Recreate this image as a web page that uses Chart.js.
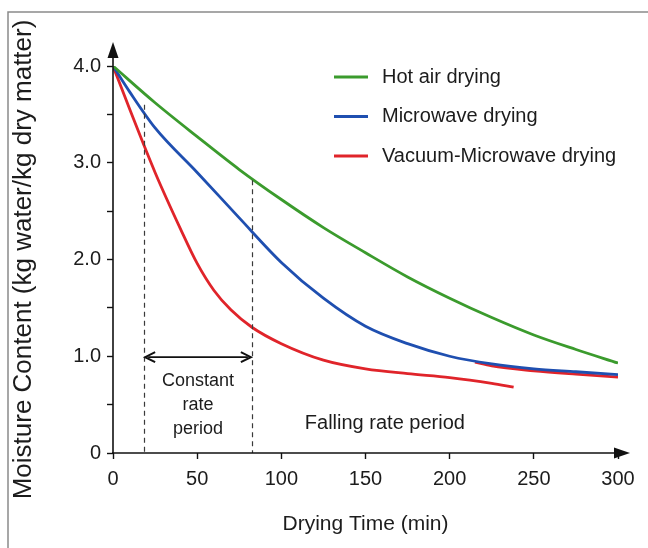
<!DOCTYPE html>
<html>
<head>
<meta charset="utf-8">
<script src="https://cdn.jsdelivr.net/npm/chart.js@4.4.1/dist/chart.umd.min.js"></script>
<style>
  html, body { margin: 0; padding: 0; background: #ffffff; }
  #wrap { width: 648px; height: 548px; }
</style>
</head>
<body>
<div id="wrap"><canvas id="c" width="648" height="548"></canvas></div>
<script>
// ---- data ----
const seriesLabels = ['Hot air drying', 'Microwave drying', 'Vacuum-Microwave drying'];

const hotAirTime      = [0, 25, 50, 75, 100, 125, 150, 175, 200, 225, 250, 275, 300];
const hotAirMoisture  = [4.0, 3.62, 3.27, 2.93, 2.62, 2.33, 2.07, 1.82, 1.60, 1.40, 1.22, 1.07, 0.93];

const microTime       = [0, 10, 25, 50, 75, 100, 125, 150, 175, 200, 225, 250, 275, 300];
const microMoisture   = [4.0, 3.73, 3.36, 2.90, 2.43, 1.97, 1.60, 1.31, 1.13, 1.00, 0.92, 0.87, 0.84, 0.81];

const vacuumTime      = [0, 10, 25, 40, 50, 60, 70, 82.5, 100, 125, 150, 175, 200, 225, 238];
const vacuumMoisture  = [4.0, 3.55, 2.90, 2.32, 1.96, 1.68, 1.48, 1.30, 1.13, 0.96, 0.87, 0.82, 0.78, 0.72, 0.68];

// red trace visible just under the microwave curve at the end
const vacuumTailTime     = [215, 225, 250, 275, 300];
const vacuumTailMoisture = [0.94, 0.90, 0.85, 0.815, 0.785];

const xTickValues = [0, 50, 100, 150, 200, 250, 300];
const yTickValues = [0, 0.5, 1, 1.5, 2, 2.5, 3, 3.5, 4];
const yTickLabels = ['0', '', '1.0', '', '2.0', '', '3.0', '', '4.0'];

const periodBounds   = [18.5, 82.5];   // minutes, dashed lines
const periodTops     = [3.60, 2.82];   // moisture where dashed lines start
const arrowLevel     = 0.99;           // moisture level of double arrow
const constantText   = ['Constant', 'rate', 'period'];
const constantLevels = [0.745, 0.50, 0.25];
const fallingText    = 'Falling rate period';
const fallingPos     = [161.5, 0.31];

// ---- helpers ----
const pts = (xs, ys) => xs.map((t, i) => ({ x: t, y: ys[i] }));
const GREEN = '#3b9b2d', BLUE = '#1f4fb0', RED = '#e0242a';
const INK = '#1c1c1c';
const FONT = '"Liberation Sans", Arial, sans-serif';

const decor = {
  id: 'decor',
  beforeDraw(chart) {
    const ctx = chart.ctx;
    ctx.save();
    ctx.fillStyle = '#ffffff';
    ctx.fillRect(0, 0, chart.width, chart.height);
    ctx.restore();
  },
  afterDatasetsDraw(chart) {
    const { ctx, scales: { x, y } } = chart;
    const x0 = x.getPixelForValue(0), y0 = y.getPixelForValue(0);
    const xEnd = x.getPixelForValue(300), yTop = y.getPixelForValue(4);
    ctx.save();

    // dashed period boundaries
    ctx.setLineDash([5, 4]);
    ctx.strokeStyle = '#3a3a3a';
    ctx.lineWidth = 1.2;
    periodBounds.forEach((t, i) => {
      const px = Math.round(x.getPixelForValue(t)) + 0.5;
      ctx.beginPath();
      ctx.moveTo(px, y.getPixelForValue(periodTops[i]));
      ctx.lineTo(px, y0);
      ctx.stroke();
    });
    ctx.setLineDash([]);

    // double arrow
    const ay = y.getPixelForValue(arrowLevel);
    const ax1 = x.getPixelForValue(periodBounds[0]), ax2 = x.getPixelForValue(periodBounds[1]);
    ctx.strokeStyle = '#111';
    ctx.fillStyle = '#111';
    ctx.lineWidth = 1.8;
    ctx.beginPath(); ctx.moveTo(ax1 + 4, ay); ctx.lineTo(ax2 - 4, ay); ctx.stroke();
    ctx.lineWidth = 2;
    ctx.beginPath(); ctx.moveTo(ax1 + 11, ay - 5); ctx.lineTo(ax1 + 1, ay); ctx.lineTo(ax1 + 11, ay + 5); ctx.stroke();
    ctx.beginPath(); ctx.moveTo(ax2 - 11, ay - 5); ctx.lineTo(ax2 - 1, ay); ctx.lineTo(ax2 - 11, ay + 5); ctx.stroke();

    // annotation text
    ctx.fillStyle = INK;
    ctx.textAlign = 'center';
    ctx.textBaseline = 'middle';
    ctx.font = '18px ' + FONT;
    const cx = x.getPixelForValue((periodBounds[0] + periodBounds[1]) / 2);
    constantText.forEach((s, i) => ctx.fillText(s, cx, y.getPixelForValue(constantLevels[i])));
    ctx.font = '20px ' + FONT;
    ctx.fillText(fallingText, x.getPixelForValue(fallingPos[0]), y.getPixelForValue(fallingPos[1]));

    // axes with arrows
    ctx.strokeStyle = '#111';
    ctx.fillStyle = '#111';
    ctx.lineWidth = 1.6;
    ctx.beginPath(); ctx.moveTo(x0, y0 + 1); ctx.lineTo(x0, yTop - 16); ctx.stroke();
    ctx.beginPath(); ctx.moveTo(x0 - 1, y0); ctx.lineTo(xEnd + 5, y0); ctx.stroke();
    ctx.beginPath(); ctx.moveTo(x0, yTop - 24); ctx.lineTo(x0 - 5.5, yTop - 8); ctx.lineTo(x0 + 5.5, yTop - 8); ctx.closePath(); ctx.fill();
    ctx.beginPath(); ctx.moveTo(xEnd + 12, y0); ctx.lineTo(xEnd - 4, y0 - 5.5); ctx.lineTo(xEnd - 4, y0 + 5.5); ctx.closePath(); ctx.fill();

    // legend
    const colors = [GREEN, BLUE, RED];
    ctx.textAlign = 'left';
    ctx.font = '20px ' + FONT;
    seriesLabels.forEach((s, i) => {
      const ly = 77 + i * 39.5;
      ctx.strokeStyle = colors[i];
      ctx.lineWidth = 3;
      ctx.beginPath(); ctx.moveTo(334, ly); ctx.lineTo(368, ly); ctx.stroke();
      ctx.fillStyle = INK;
      ctx.fillText(s, 382, ly);
    });

    // frame (top and left edge of the screenshot)
    ctx.strokeStyle = '#8a8a8a';
    ctx.lineWidth = 1.5;
    ctx.beginPath(); ctx.moveTo(8, chart.height); ctx.lineTo(8, 12); ctx.lineTo(chart.width, 12); ctx.stroke();

    ctx.restore();
  }
};

const lineDs = (label, data, color) => ({
  label, data,
  borderColor: color, backgroundColor: color,
  borderWidth: 2.8, pointRadius: 0, fill: false,
  cubicInterpolationMode: 'monotone'
});

new Chart(document.getElementById('c'), {
  type: 'line',
  data: {
    datasets: [
      lineDs(seriesLabels[0], pts(hotAirTime, hotAirMoisture), GREEN),
      lineDs(seriesLabels[1], pts(microTime, microMoisture), BLUE),
      lineDs(seriesLabels[2], pts(vacuumTime, vacuumMoisture), RED),
      lineDs('', pts(vacuumTailTime, vacuumTailMoisture), RED)
    ]
  },
  options: {
    responsive: false,
    animation: false,
    devicePixelRatio: 1,
    layout: { padding: { left: 8, top: 66, right: 30, bottom: 0 } },
    plugins: { legend: { display: false }, tooltip: { enabled: false } },
    scales: {
      x: {
        type: 'linear', min: 0, max: 300,
        afterBuildTicks: s => { s.ticks = xTickValues.map(v => ({ value: v })); },
        afterFit: s => { s.height = 95; },
        border: { display: false },
        grid: { drawOnChartArea: false, drawTicks: true, tickLength: 6, tickColor: '#111', tickWidth: 1.4 },
        ticks: { color: INK, font: { family: FONT, size: 20 }, padding: 8, maxRotation: 0, autoSkip: false },
        title: { display: true, text: 'Drying Time (min)', color: INK, font: { family: FONT, size: 21 }, padding: { top: 0, bottom: 11 } }
      },
      y: {
        type: 'linear', min: 0, max: 4,
        afterBuildTicks: s => { s.ticks = yTickValues.map(v => ({ value: v })); },
        afterFit: s => { s.width = 105; },
        border: { display: false },
        grid: { drawOnChartArea: false, drawTicks: true, tickLength: 6, tickColor: '#111', tickWidth: 1.4 },
        ticks: {
          color: INK, font: { family: FONT, size: 20 }, padding: 6, autoSkip: false,
          callback: (v) => yTickLabels[yTickValues.indexOf(v)]
        },
        title: { display: true, text: 'Moisture Content (kg water/kg dry matter)', color: INK, font: { family: FONT, size: 26 }, padding: { top: 0, bottom: 0 } }
      }
    }
  },
  plugins: [decor]
});
</script>
</body>
</html>
